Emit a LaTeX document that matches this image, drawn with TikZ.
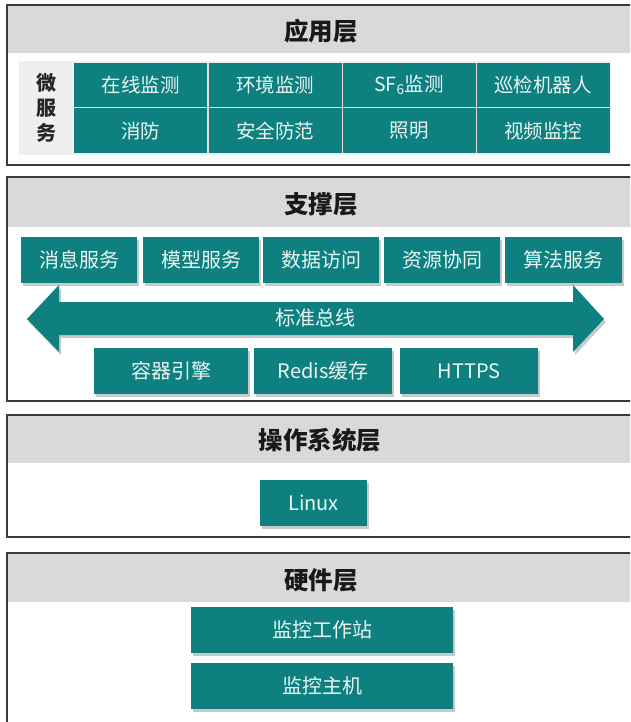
\documentclass[tikz,border=0pt]{standalone}
\usepackage{fontspec}
\newfontfamily\cjk{Noto Sans CJK SC}
\usetikzlibrary{shadows}
\definecolor{teal1}{HTML}{0E8080}
\definecolor{hdrgray}{HTML}{D9D9D9}
\definecolor{msgray}{HTML}{EFEFEF}
\definecolor{gapc}{HTML}{E6DCDC}
\definecolor{boxtxt}{HTML}{EAF6F2}
\definecolor{bordc}{HTML}{3A3A3A}
\tikzset{
  tbox/.style={rectangle, fill=teal1, text=boxtxt, inner sep=0pt,
    font=\cjk\fontsize{20}{23}\selectfont,
    drop shadow={shadow xshift=2pt, shadow yshift=-3pt, opacity=0.35, fill=black!60}},
  cell/.style={rectangle, fill=teal1, text=boxtxt, inner sep=0pt,
    minimum width=133, minimum height=44.5,
    font=\cjk\fontsize{19.5}{22}\selectfont},
  hdr/.style={font=\cjk\bfseries\fontsize{24.5}{27}\selectfont, text=black!90, inner sep=0pt},
  panel/.style={draw=bordc, line width=1.3pt},
}
\begin{document}
\begin{tikzpicture}[x=1pt,y=-1pt]
\useasboundingbox (0,0) rectangle (630,722);
\clip (0,0) rectangle (630,722);
\fill[white] (0,0) rectangle (630,722);

% Panel 1
\fill[hdrgray] (7,5) rectangle (640,53);
\draw[panel] (7,5) rectangle (640,165);
\node[hdr] (h1) at (321,31) {应用层};
\fill[msgray] (19,61) rectangle (611,155);
\fill[gapc] (74,63) rectangle (609,153);
\node[font=\cjk\bfseries\fontsize{20}{25}\selectfont, align=center, text=black!85, inner sep=0pt] (ms) at (46,108) {微\\服\\务};
\node[cell] (a1) at (140.5,85.25) {在线监测};
\node[cell] (a2) at (275,85.25) {环境监测};
\node[cell] (a3) at (409,85.25) {SF\textsubscript{6}监测};
\node[cell] (a4) at (543,85.25) {巡检机器人};
\node[cell] (a5) at (140.5,130.75) {消防};
\node[cell] (a6) at (275,130.75) {安全防范};
\node[cell] (a7) at (409,130.75) {照明};
\node[cell] (a8) at (543,130.75) {视频监控};

% Panel 2
\fill[hdrgray] (7,177) rectangle (640,227);
\draw[panel] (7,177) rectangle (640,401);
\node[hdr] (h2) at (321,204) {支撑层};
\node[tbox, minimum width=116, minimum height=46] (b1) at (79,260) {消息服务};
\node[tbox, minimum width=116, minimum height=46] (b2) at (201,260) {模型服务};
\node[tbox, minimum width=116, minimum height=46] (b3) at (321,260) {数据访问};
\node[tbox, minimum width=116, minimum height=46] (b4) at (442,260) {资源协同};
\node[tbox, minimum width=117, minimum height=46] (b5) at (563.5,260) {算法服务};
\fill[teal1, drop shadow={shadow xshift=2pt, shadow yshift=-3pt, opacity=0.35, fill=black!60}]
  (27,319) -- (59,285) -- (59,302) -- (573,302) -- (573,285) -- (604,319)
  -- (573,352) -- (573,335) -- (59,335) -- (59,352) -- cycle;
\node[text=boxtxt, font=\cjk\fontsize{20}{23}\selectfont, inner sep=0pt] (bus) at (315,318) {标准总线};
\node[tbox, minimum width=154, minimum height=46] (c1) at (171,371) {容器引擎};
\node[tbox, minimum width=138, minimum height=46] (c2) at (323,371) {Redis缓存};
\node[tbox, minimum width=138, minimum height=46] (c3) at (469,371) {HTTPS};

% Panel 3
\fill[hdrgray] (7,415) rectangle (640,463);
\draw[panel] (7,415) rectangle (640,537);
\node[hdr] (h3) at (320,440) {操作系统层};
\node[tbox, minimum width=107, minimum height=46] (linux) at (313.5,503) {Linux};

% Panel 4
\fill[hdrgray] (7,553) rectangle (640,602);
\draw[panel] (7,553) rectangle (640,740);
\node[hdr] (h4) at (321,580) {硬件层};
\node[tbox, minimum width=262, minimum height=46] (hw1) at (322,630) {监控工作站};
\node[tbox, minimum width=262, minimum height=46] (hw2) at (322,686) {监控主机};
\end{tikzpicture}
\end{document}
